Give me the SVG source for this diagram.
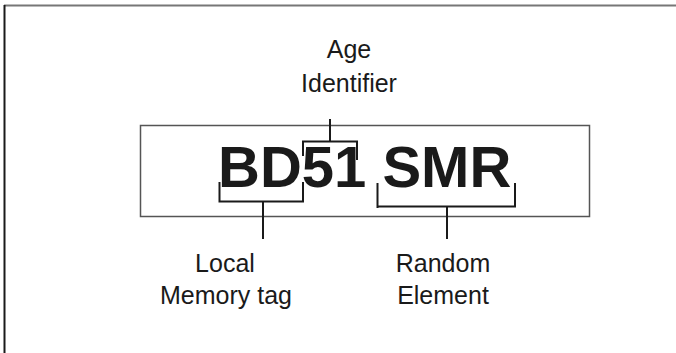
<svg xmlns="http://www.w3.org/2000/svg" width="676" height="353" viewBox="0 0 676 353">
<style>
.lbl{font-family:"Liberation Sans",Arial,sans-serif;font-size:25px;fill:#1a1a1a;text-anchor:middle}
.plate{font-family:"Liberation Sans",Arial,sans-serif;font-size:58px;font-weight:bold;fill:#1a1a1a}
.ln{fill:none;stroke:#1a1a1a;stroke-width:2}
</style>
<rect width="676" height="353" fill="#fff"/>
<g id="frame">
<line x1="4" y1="5.5" x2="676" y2="5.5" stroke="#777" stroke-width="2"/>
<line x1="4.5" y1="5" x2="4.5" y2="353" stroke="#1a1a1a" stroke-width="2"/>
</g>
<g id="plate">
<rect x="140.5" y="125.5" width="449" height="91" fill="none" stroke="#555" stroke-width="1.5"/>
<text class="plate" x="218" y="187">BD51 SMR</text>
</g>
<g id="connectors">
<path class="ln" d="M303,156 V141.5 H357 V160"/>
<path class="ln" d="M330,119 V141.5"/>
<path class="ln" d="M219.5,182 V201.5 H303 V182"/>
<path class="ln" d="M263,201.5 V239"/>
<path class="ln" d="M377.5,183 V208 M377.5,206.5 H515 V183"/>
<path class="ln" d="M447,206.5 V239"/>
</g>
<g id="age">
<text class="lbl" x="349" y="58">Age</text>
<text class="lbl" x="349" y="92">Identifier</text>
</g>
<g id="local">
<text class="lbl" x="225" y="272">Local</text>
<text class="lbl" x="226" y="304">Memory tag</text>
</g>
<g id="random">
<text class="lbl" x="443" y="272">Random</text>
<text class="lbl" x="443" y="304">Element</text>
</g>
</svg>
